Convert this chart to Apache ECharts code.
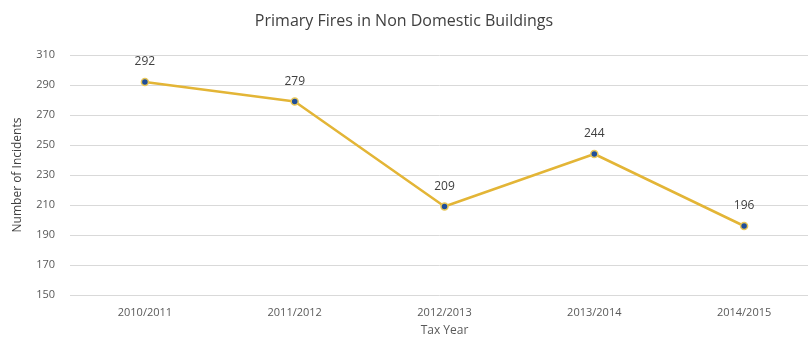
<!DOCTYPE html>
<html>
<head>
<meta charset="utf-8">
<script src="https://cdn.jsdelivr.net/npm/echarts@6/dist/echarts.min.js"></script>
<style>
  html, body { margin: 0; padding: 0; background: #fff; }
  #chart { width: 808px; height: 347px; }
</style>
</head>
<body>
<div id="chart"></div>
<script>
// Tax years and incident counts
const taxYears = ['2010/2011', '2011/2012', '2012/2013', '2013/2014', '2014/2015'];
const incidents = [292, 279, 209, 244, 196];
const yTicks = { min: 150, max: 310, step: 20 };

const font = '"Open Sans", "Liberation Sans", sans-serif';
const chart = echarts.init(document.getElementById('chart'), null, { renderer: 'canvas' });

chart.setOption({
  backgroundColor: '#ffffff',
  animation: false,
  title: {
    text: 'Primary Fires in Non Domestic Buildings',
    left: 'center',
    top: 8,
    textStyle: { fontFamily: font, fontSize: 16, fontWeight: 'normal', color: '#404040' }
  },
  // plot area runs slightly past the right edge of the canvas
  grid: { left: 70, width: 749, top: 55, height: 240, outerBoundsMode: 'none', containLabel: false },
  xAxis: {
    type: 'category',
    data: taxYears,
    boundaryGap: true,
    name: 'Tax Year',
    nameLocation: 'middle',
    nameGap: 30,
    nameTextStyle: { fontFamily: font, fontSize: 12, color: '#595959' },
    axisLine: { show: false },
    axisTick: { show: false },
    axisLabel: { fontFamily: font, fontSize: 11, color: '#595959', margin: 12 }
  },
  yAxis: {
    type: 'value',
    min: yTicks.min,
    max: yTicks.max,
    interval: yTicks.step,
    name: 'Number of Incidents',
    nameLocation: 'middle',
    nameGap: 46,
    nameTextStyle: { fontFamily: font, fontSize: 12, color: '#404040' },
    axisLine: { show: false },
    axisTick: { show: false },
    axisLabel: { fontFamily: font, fontSize: 11, color: '#595959', margin: 15 },
    splitLine: { lineStyle: { color: '#d9d9d9', width: 1 } }
  },
  series: [{
    type: 'line',
    data: incidents,
    symbol: 'circle',
    symbolSize: 7,
    lineStyle: { color: '#e3b536', width: 2.5 },
    itemStyle: { color: '#1f4e9a', borderColor: '#e8c75a', borderWidth: 1.5 },
    label: {
      show: true,
      position: 'top',
      distance: 10,
      fontFamily: font,
      fontSize: 12,
      color: '#404040'
    }
  }]
});
</script>
</body>
</html>
